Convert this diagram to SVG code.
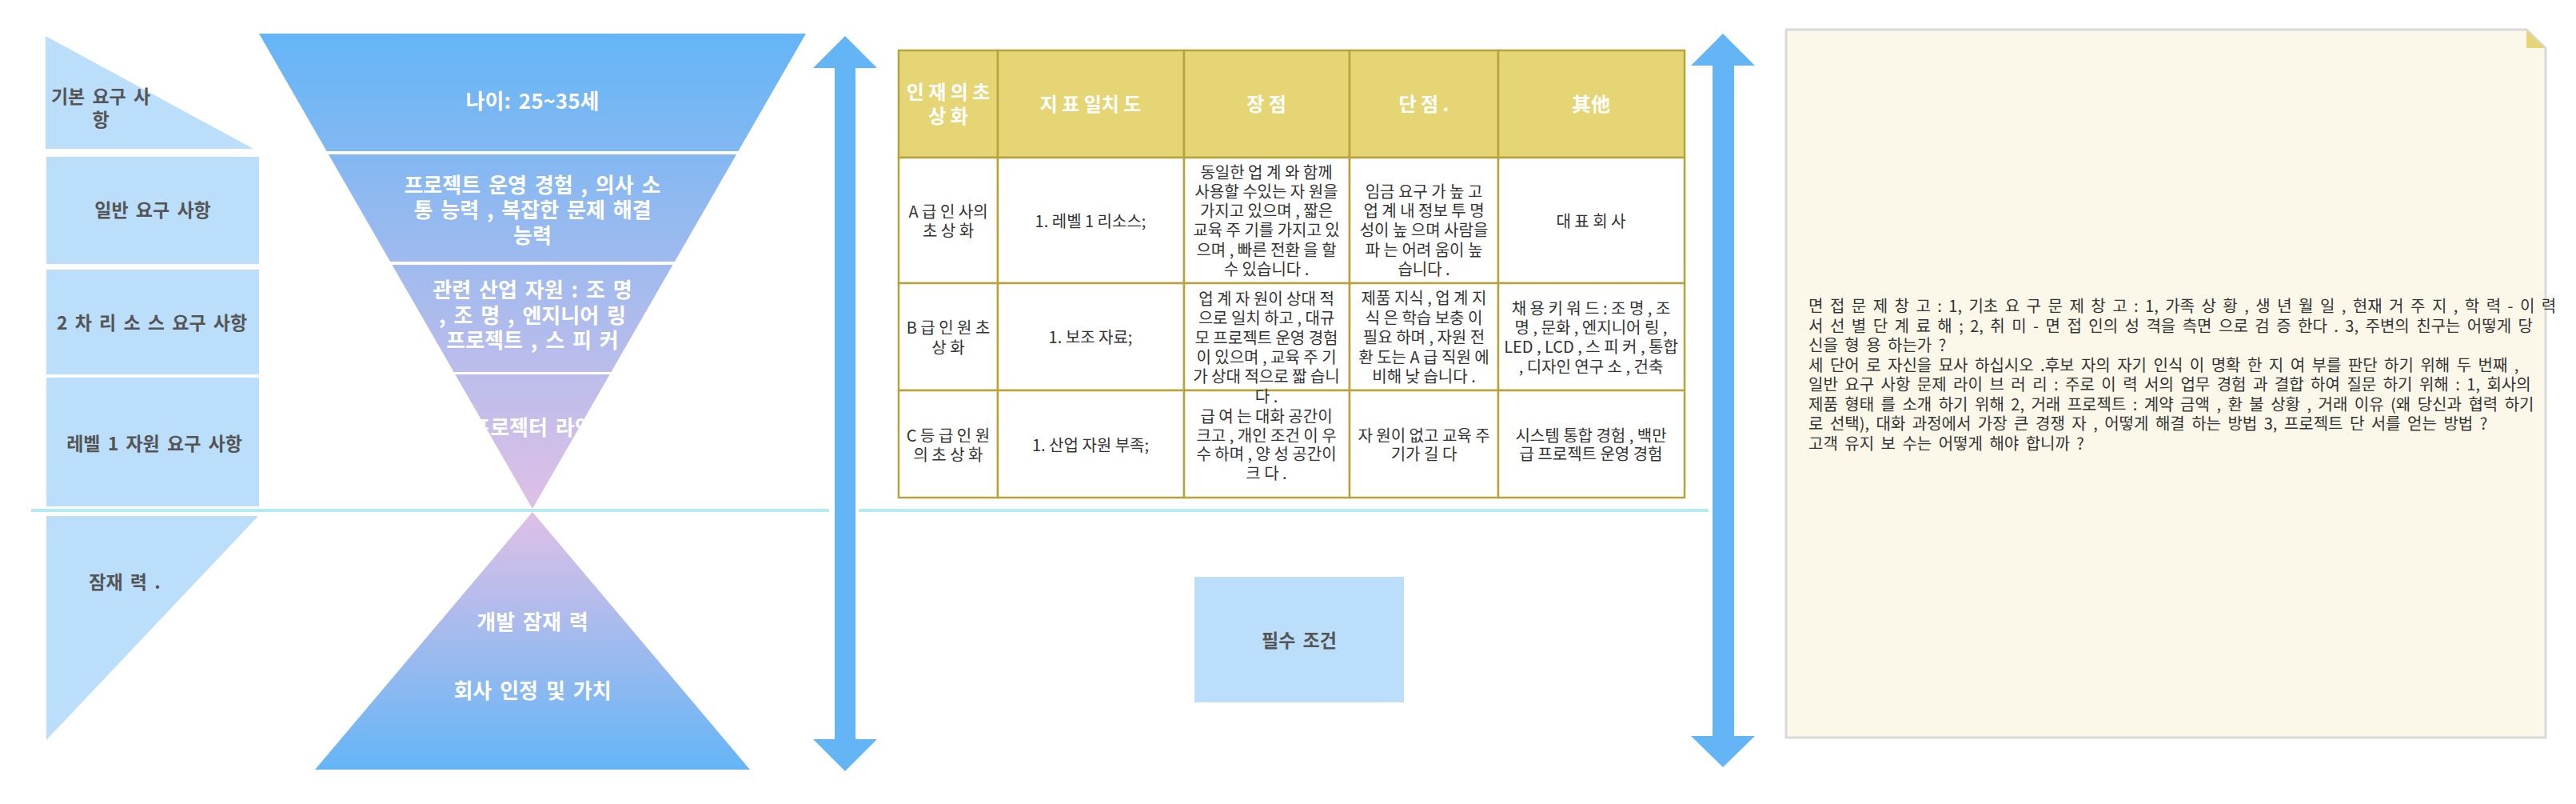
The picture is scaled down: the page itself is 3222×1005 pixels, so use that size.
<svg xmlns="http://www.w3.org/2000/svg" width="3222" height="1005" viewBox="0 0 3222 1005">
<defs>
<style>
text{font-family:"Noto Sans CJK KR","Noto Sans",sans-serif;}
.lbl{font-size:23px;font-weight:bold;fill:#555;text-anchor:middle;word-spacing:4px;}
.fun{font-size:26px;font-weight:bold;fill:#fff;text-anchor:middle;word-spacing:4px;}
.hd{font-size:24px;font-weight:bold;fill:#fff;text-anchor:middle;}
.td{font-size:20px;fill:#333;text-anchor:middle;}
.nt{font-size:20px;fill:#333;word-spacing:4px;}
.box{fill:#bbdefb;}
.hdr{fill:#e6d574;stroke:#b8a23e;stroke-width:2.5;}
.cell{fill:#fff;stroke:#b8a23e;stroke-width:2.5;}
.arrow{fill:#64b5f6;}
.sep{stroke:#b2ebf2;stroke-width:4;}
</style>
<linearGradient id="gDown" gradientUnits="userSpaceOnUse" x1="0" y1="42" x2="0" y2="636">
<stop offset="0" stop-color="#64b5f6"/>
<stop offset="1" stop-color="#dfc0e6"/>
</linearGradient>
<linearGradient id="gUp" gradientUnits="userSpaceOnUse" x1="0" y1="640" x2="0" y2="962">
<stop offset="0" stop-color="#dfc0e6"/>
<stop offset="1" stop-color="#64b5f6"/>
</linearGradient>
<clipPath id="clipBand4"><polygon points="569.3,468 762.7,468 666,636"/></clipPath>
</defs>

<rect width="3222" height="1005" fill="#fff"/>

<!-- separator lines -->
<g id="separators">
<line class="sep" x1="39" y1="638" x2="1037" y2="638"/>
<line class="sep" x1="1074" y1="638" x2="2137" y2="638"/>
</g>

<!-- left labels -->
<g id="lbl-basic">
<polygon class="box" points="57,45 57,186 317,186"/>
<text class="lbl"><tspan x="126" y="129">기본 요구 사</tspan><tspan x="126" y="158">항</tspan></text>
</g>
<g id="lbl-general">
<rect class="box" x="58" y="196" width="266" height="134"/>
<text class="lbl" x="191" y="271">일반 요구 사항</text>
</g>
<g id="lbl-secondary">
<rect class="box" x="58" y="337" width="266" height="131"/>
<text class="lbl" x="190" y="412">2 차 리 소 스 요구 사항</text>
</g>
<g id="lbl-level1">
<rect class="box" x="58" y="472" width="266" height="161"/>
<text class="lbl" x="193" y="563">레벨 1 자원 요구 사항</text>
</g>
<g id="lbl-potential">
<polygon class="box" points="58,645 323,645 58,925"/>
<text class="lbl" x="156" y="736">잠재 력 .</text>
</g>

<!-- funnel -->
<g id="band1">
<polygon fill="url(#gDown)" points="324,42 1008,42 923.4,189 408.6,189"/>
<text class="fun" x="666" y="136">나이: 25~35세</text>
</g>
<g id="band2">
<polygon fill="url(#gDown)" points="410.9,193 921.1,193 843.9,327 488.1,327"/>
<text class="fun"><tspan x="666" y="241">프로젝트 운영 경험 , 의사 소</tspan><tspan x="666" y="272">통 능력 , 복잡한 문제 해결</tspan><tspan x="666" y="304">능력</tspan></text>
</g>
<g id="band3">
<polygon fill="url(#gDown)" points="490.4,331 841.6,331 764.4,465 567.6,465"/>
<text class="fun"><tspan x="666" y="372">관련 산업 자원 : 조 명</tspan><tspan x="666" y="404">, 조 명 , 엔지니어 링</tspan><tspan x="666" y="435">프로젝트 , 스 피 커</tspan></text>
</g>
<g id="band4">
<polygon fill="url(#gDown)" points="569.3,468 762.7,468 666,636"/>
<text class="fun" x="666" y="544" clip-path="url(#clipBand4)">프로젝터 라인</text>
</g>
<g id="pyramid">
<polygon fill="url(#gUp)" points="666,640 938,962 394,962"/>
<text class="fun" x="666" y="787">개발 잠재 력</text>
<text class="fun" x="666" y="873">회사 인정 및 가치</text>
</g>

<!-- table -->
<g id="table">
<rect class="hdr" x="1124" y="63" width="124" height="134"/>
<rect class="hdr" x="1248" y="63" width="233" height="134"/>
<rect class="hdr" x="1481" y="63" width="207" height="134"/>
<rect class="hdr" x="1688" y="63" width="186" height="134"/>
<rect class="hdr" x="1874" y="63" width="233" height="134"/>
<text class="hd"><tspan x="1186" y="124">인 재 의 초</tspan><tspan x="1186" y="154">상 화</tspan></text>
<text class="hd" x="1364" y="139">지 표 일치 도</text>
<text class="hd" x="1584" y="139">장 점</text>
<text class="hd" x="1781" y="139">단 점 .</text>
<text class="hd" x="1990" y="139">其他</text>

<rect class="cell" x="1124" y="197" width="124" height="157"/>
<rect class="cell" x="1248" y="197" width="233" height="157"/>
<rect class="cell" x="1481" y="197" width="207" height="157"/>
<rect class="cell" x="1688" y="197" width="186" height="157"/>
<rect class="cell" x="1874" y="197" width="233" height="157"/>
<rect class="cell" x="1124" y="354" width="124" height="134"/>
<rect class="cell" x="1248" y="354" width="233" height="134"/>
<rect class="cell" x="1481" y="354" width="207" height="134"/>
<rect class="cell" x="1688" y="354" width="186" height="134"/>
<rect class="cell" x="1874" y="354" width="233" height="134"/>
<rect class="cell" x="1124" y="488" width="124" height="134"/>
<rect class="cell" x="1248" y="488" width="233" height="134"/>
<rect class="cell" x="1481" y="488" width="207" height="134"/>
<rect class="cell" x="1688" y="488" width="186" height="134"/>
<rect class="cell" x="1874" y="488" width="233" height="134"/>

<text class="td"><tspan x="1186" y="272">A 급 인 사의</tspan><tspan x="1186" y="296">초 상 화</tspan></text>
<text class="td" x="1364" y="284">1. 레벨 1 리소스;</text>
<text class="td"><tspan x="1584" y="223">동일한 업 계 와 함께</tspan><tspan x="1584" y="247">사용할 수있는 자 원을</tspan><tspan x="1584" y="271">가지고 있으며 , 짧은</tspan><tspan x="1584" y="295">교육 주 기를 가지고 있</tspan><tspan x="1584" y="320">으며 , 빠른 전환 을 할</tspan><tspan x="1584" y="344">수 있습니다 .</tspan></text>
<text class="td"><tspan x="1781" y="247">임금 요구 가 높 고</tspan><tspan x="1781" y="271">업 계 내 정보 투 명</tspan><tspan x="1781" y="295">성이 높 으며 사람을</tspan><tspan x="1781" y="320">파 는 어려 움이 높</tspan><tspan x="1781" y="344">습니다 .</tspan></text>
<text class="td" x="1990" y="284">대 표 회 사</text>

<text class="td"><tspan x="1186" y="417">B 급 인 원 초</tspan><tspan x="1186" y="442">상 화</tspan></text>
<text class="td" x="1364" y="429">1. 보조 자료;</text>
<text class="td"><tspan x="1584" y="381">업 계 자 원이 상대 적</tspan><tspan x="1584" y="405">으로 일치 하고 , 대규</tspan><tspan x="1584" y="430">모 프로젝트 운영 경험</tspan><tspan x="1584" y="454">이 있으며 , 교육 주 기</tspan><tspan x="1584" y="478">가 상대 적으로 짧 습니</tspan><tspan x="1584" y="503">다 .</tspan></text>
<text class="td"><tspan x="1781" y="380">제품 지식 , 업 계 지</tspan><tspan x="1781" y="405">식 은 학습 보충 이</tspan><tspan x="1781" y="429">필요 하며 , 자원 전</tspan><tspan x="1781" y="454">환 도는 A 급 직원 에</tspan><tspan x="1781" y="478">비해 낮 습니다 .</tspan></text>
<text class="td"><tspan x="1990" y="393">채 용 키 워 드 : 조 명 , 조</tspan><tspan x="1990" y="417">명 , 문화 , 엔지니어 링 ,</tspan><tspan x="1990" y="441">LED , LCD , 스 피 커 , 통합</tspan><tspan x="1990" y="466">, 디자인 연구 소 , 건축</tspan></text>

<text class="td"><tspan x="1186" y="552">C 등 급 인 원</tspan><tspan x="1186" y="576">의 초 상 화</tspan></text>
<text class="td" x="1364" y="564">1. 산업 자원 부족;</text>
<text class="td"><tspan x="1584" y="528">급 여 는 대화 공간이</tspan><tspan x="1584" y="552">크고 , 개인 조건 이 우</tspan><tspan x="1584" y="575">수 하며 , 양 성 공간이</tspan><tspan x="1584" y="599">크 다 .</tspan></text>
<text class="td"><tspan x="1781" y="552">자 원이 없고 교육 주</tspan><tspan x="1781" y="575">기가 길 다</tspan></text>
<text class="td"><tspan x="1990" y="552">시스템 통합 경험 , 백만</tspan><tspan x="1990" y="575">급 프로젝트 운영 경험</tspan></text>
</g>

<g id="required">
<rect class="box" x="1494" y="721" width="262" height="157"/>
<text class="lbl" x="1625" y="809">필수 조건</text>
</g>

<!-- arrows -->
<g id="connectors">
<polygon class="arrow" points="1057,45 1097,85 1070,85 1070,924 1097,924 1057,964 1017,924 1044,924 1044,85 1017,85"/>
<polygon class="arrow" points="2155,42 2195,82 2169,82 2169,920 2195,920 2155,959 2115,920 2142,920 2142,82 2115,82"/>
</g>

<!-- note -->
<g id="note">
<polygon points="2234,37 3160,37 3184,60 3184,922 2234,922" fill="#fbf8ea" stroke="#d9d9d9" stroke-width="3"/>
<polygon points="3160,38 3160,60 3183,60" fill="#e6d574"/>
<text class="nt"><tspan x="2262" y="390">면 접 문 제 창 고 : 1, 기초 요 구 문 제 창 고 : 1, 가족 상 황 , 생 년 월 일 , 현재 거 주 지 , 학 력 - 이 력</tspan><tspan x="2262" y="414.5">서 선 별 단 계 료 해 ; 2, 취 미 - 면 접 인의 성 격을 측면 으로 검 증 한다 . 3, 주변의 친구는 어떻게 당</tspan><tspan x="2262" y="439">신을 형 용 하는가 ?</tspan><tspan x="2262" y="463.5">세 단어 로 자신을 묘사 하십시오 .후보 자의 자기 인식 이 명확 한 지 여 부를 판단 하기 위해 두 번째 ,</tspan><tspan x="2262" y="488">일반 요구 사항 문제 라이 브 러 리 : 주로 이 력 서의 업무 경험 과 결합 하여 질문 하기 위해 : 1, 회사의</tspan><tspan x="2262" y="512.5">제품 형태 를 소개 하기 위해 2, 거래 프로젝트 : 계약 금액 , 환 불 상황 , 거래 이유 (왜 당신과 협력 하기</tspan><tspan x="2262" y="537">로 선택), 대화 과정에서 가장 큰 경쟁 자 , 어떻게 해결 하는 방법 3, 프로젝트 단 서를 얻는 방법 ?</tspan><tspan x="2262" y="561.5">고객 유지 보 수는 어떻게 해야 합니까 ?</tspan></text>
</g>
</svg>
